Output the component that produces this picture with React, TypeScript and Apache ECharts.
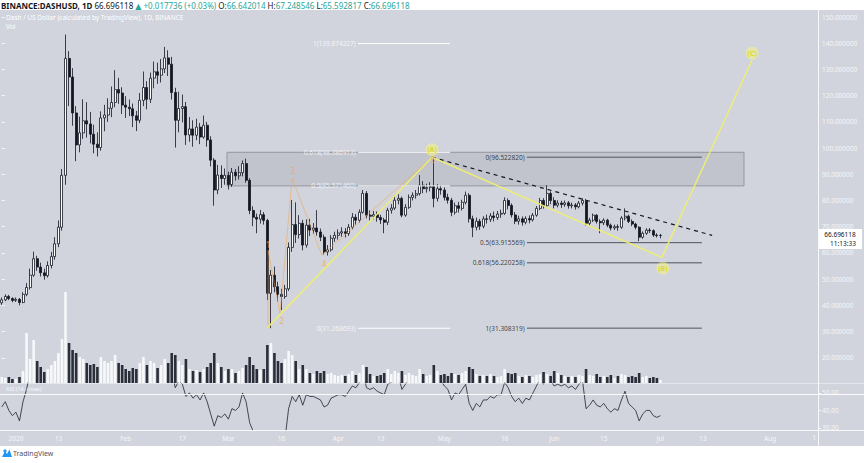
import React, { useEffect, useRef } from "react";
import * as echarts from "echarts";

const FONT = "'Noto Sans', 'DejaVu Sans', sans-serif";
const DAY_COUNT = 231; // 2019-12-28 .. 2020-08-15

const TIME_LABELS: Record<string, string> = {
  "2020-01-01": "2020", "2020-01-13": "13", "2020-02-01": "Feb", "2020-02-17": "17",
  "2020-03-01": "Mar", "2020-03-16": "16", "2020-04-01": "Apr", "2020-04-13": "13",
  "2020-05-01": "May", "2020-05-18": "18", "2020-06-01": "Jun", "2020-06-15": "15",
  "2020-07-01": "Jul", "2020-07-13": "13", "2020-08-01": "Aug",
};

// [open, close, low, high]
const OHLC: number[][] = [
  [41.0, 42.1, 40.2, 43.0], [42.1, 43.4, 41.6, 44.2], [43.4, 42.6, 42.0, 44.0], [42.6, 41.9, 41.2, 43.1], [41.9, 42.3, 41.3, 43.0],
  [42.3, 41.1, 40.0, 42.8], [41.1, 44.2, 40.8, 45.0], [44.2, 46.8, 43.5, 48.5], [46.8, 51.5, 46.0, 54.0], [51.5, 57.8, 50.9, 60.5],
  [57.8, 54.6, 53.2, 58.9], [54.6, 52.4, 51.0, 56.3], [52.4, 51.3, 49.8, 54.0], [51.3, 55.2, 50.6, 56.8], [55.2, 58.6, 54.1, 60.4],
  [58.6, 63.5, 57.4, 66.0], [63.5, 69.8, 62.2, 72.4], [69.8, 89.6, 68.5, 92.0], [89.6, 134.2, 86.0, 143.3], [134.2, 127.1, 116.0, 137.0],
  [127.1, 113.4, 108.5, 130.5], [113.4, 101.2, 95.0, 116.0], [101.2, 105.8, 98.4, 112.0], [105.8, 110.4, 103.5, 118.6], [110.4, 109.2, 104.0, 117.5],
  [109.2, 105.3, 101.8, 113.8], [105.3, 101.5, 98.0, 108.9], [101.5, 100.2, 96.8, 106.0], [100.2, 111.5, 99.0, 114.0], [111.5, 112.6, 106.4, 116.5],
  [112.6, 115.2, 110.0, 119.0], [115.2, 117.4, 111.8, 123.5], [117.4, 122.3, 115.6, 129.7], [122.3, 121.0, 116.9, 126.8], [121.0, 116.4, 113.0, 123.2],
  [116.4, 115.6, 111.5, 119.8], [115.6, 115.0, 112.2, 118.5], [115.0, 112.3, 108.0, 117.0], [112.3, 110.6, 106.5, 114.2], [110.6, 118.2, 109.5, 121.0],
  [118.2, 123.1, 116.0, 129.2], [123.1, 118.6, 114.8, 125.5], [118.6, 126.7, 117.2, 128.8], [126.7, 129.1, 122.8, 133.0], [129.1, 127.8, 124.5, 132.6],
  [127.8, 130.2, 125.0, 134.0], [130.2, 134.4, 128.6, 138.6], [134.4, 132.0, 127.5, 137.3], [132.0, 121.2, 118.5, 134.8], [121.2, 110.6, 100.2, 123.0],
  [110.6, 115.1, 106.0, 121.5], [115.1, 115.8, 109.8, 120.4], [115.8, 105.0, 101.2, 117.6], [105.0, 107.3, 102.4, 111.8], [107.3, 104.9, 100.5, 110.6],
  [104.9, 108.0, 103.0, 111.2], [108.0, 104.2, 101.5, 109.6], [104.2, 108.7, 103.6, 112.4], [108.7, 103.1, 100.5, 110.0], [103.1, 95.4, 93.0, 104.5],
  [95.4, 84.0, 78.0, 96.2], [84.0, 89.7, 82.4, 93.6], [89.7, 88.4, 84.8, 93.4], [88.4, 89.6, 86.0, 92.2], [89.6, 86.1, 84.2, 91.0],
  [86.1, 90.8, 85.2, 92.4], [90.8, 89.4, 87.6, 92.0], [89.4, 90.6, 88.0, 93.1], [90.6, 94.1, 89.2, 95.3], [94.1, 87.7, 86.8, 96.0],
  [87.7, 76.2, 74.8, 88.5], [76.2, 73.6, 70.2, 77.8], [73.6, 72.9, 67.5, 75.0], [72.9, 74.6, 71.2, 76.4], [74.6, 72.4, 70.8, 75.6],
  [72.4, 44.6, 42.0, 73.0], [44.6, 51.5, 31.3, 53.5], [51.5, 47.1, 45.0, 54.8], [47.1, 44.2, 41.5, 49.0], [44.2, 43.4, 38.2, 46.3],
  [43.4, 46.3, 42.5, 47.8], [46.3, 62.1, 45.5, 64.0], [62.1, 70.8, 60.4, 80.2], [70.8, 67.0, 63.8, 79.3], [67.0, 71.3, 65.5, 74.4],
  [71.3, 63.0, 61.0, 72.6], [63.0, 70.6, 62.0, 72.8], [70.6, 68.7, 66.4, 73.0], [68.7, 69.5, 67.2, 71.4], [69.5, 68.0, 66.6, 76.3],
  [68.0, 66.0, 64.5, 69.3], [66.0, 60.4, 59.4, 67.0], [60.4, 61.2, 59.0, 63.0], [61.2, 65.6, 60.5, 66.8], [65.6, 66.7, 64.2, 68.1],
  [66.7, 67.6, 65.1, 69.0], [67.6, 68.1, 66.2, 69.8], [68.1, 67.4, 65.9, 69.5], [67.4, 69.8, 66.5, 71.0], [69.8, 73.6, 69.0, 75.2],
  [73.6, 72.5, 70.8, 74.8], [72.5, 75.5, 71.6, 76.6], [75.5, 82.7, 75.0, 84.0], [82.7, 74.4, 73.2, 83.6], [74.4, 74.0, 72.4, 76.2],
  [74.0, 74.6, 72.8, 76.0], [74.6, 73.5, 71.9, 75.8], [73.5, 72.6, 71.0, 74.5], [72.6, 71.7, 67.5, 73.4], [71.7, 76.3, 70.6, 77.2],
  [76.3, 77.1, 75.0, 78.6], [77.1, 80.1, 76.4, 81.8], [80.1, 80.8, 78.5, 82.4], [80.8, 74.4, 73.6, 81.5], [74.4, 77.4, 73.8, 78.6],
  [77.4, 81.2, 76.8, 82.3], [81.2, 82.0, 80.0, 83.1], [82.0, 82.6, 80.7, 84.0], [82.6, 85.8, 81.9, 89.7], [85.8, 84.5, 82.8, 87.4],
  [84.5, 85.0, 83.0, 86.4], [85.0, 85.3, 83.5, 87.0], [85.3, 80.8, 77.4, 96.5], [80.8, 84.5, 79.6, 86.2], [84.5, 84.0, 82.2, 85.8],
  [84.0, 81.2, 80.0, 85.0], [81.2, 80.1, 78.8, 82.6], [80.1, 75.5, 74.0, 81.0], [75.5, 78.0, 74.6, 79.2], [78.0, 77.0, 75.4, 79.5],
  [77.0, 79.3, 76.2, 80.3], [79.3, 82.0, 78.5, 83.4], [82.0, 73.0, 71.6, 82.8], [73.0, 69.8, 66.0, 74.2], [69.8, 72.1, 68.6, 73.5],
  [72.1, 70.2, 68.8, 73.0], [70.2, 73.0, 69.4, 74.0], [73.0, 72.8, 71.2, 74.6], [72.8, 74.1, 71.8, 75.2], [74.1, 73.5, 72.0, 75.8],
  [73.5, 74.8, 72.6, 76.0], [74.8, 75.1, 73.4, 76.5], [75.1, 80.0, 74.5, 81.2], [80.0, 78.1, 76.6, 80.8], [78.1, 74.5, 73.5, 78.9],
  [74.5, 72.1, 71.0, 75.6], [72.1, 73.0, 70.8, 74.2], [73.0, 71.7, 70.4, 73.9], [71.7, 73.1, 70.9, 74.0], [73.1, 72.6, 71.3, 74.3],
  [72.6, 74.4, 72.0, 75.2], [74.4, 77.0, 73.8, 77.9], [77.0, 80.0, 76.3, 81.0], [80.0, 78.0, 76.9, 80.9], [78.0, 82.7, 77.4, 85.8],
  [82.7, 80.0, 78.6, 83.5], [80.0, 78.2, 77.0, 81.2], [78.2, 79.0, 77.4, 80.1], [79.0, 78.5, 77.2, 79.9], [78.5, 79.1, 77.6, 80.0],
  [79.1, 78.0, 76.9, 79.8], [78.0, 78.3, 77.0, 79.2], [78.3, 77.6, 76.5, 79.0], [77.6, 79.0, 77.0, 79.8], [79.0, 80.0, 78.1, 80.8],
  [80.0, 71.3, 70.5, 80.6], [71.3, 72.5, 70.4, 73.4], [72.5, 74.4, 71.8, 75.0], [74.4, 72.0, 71.2, 74.8], [72.0, 71.5, 67.5, 72.8],
  [71.5, 72.5, 70.6, 73.2], [72.5, 70.6, 69.8, 73.0], [70.6, 69.5, 68.6, 71.2], [69.5, 70.0, 68.8, 70.8], [70.0, 69.8, 68.5, 70.9],
  [69.8, 73.3, 69.2, 74.0], [73.3, 74.0, 72.4, 77.0], [74.0, 72.0, 71.4, 74.6], [72.0, 71.0, 70.2, 72.8], [71.0, 69.8, 69.0, 71.5],
  [69.8, 66.0, 64.5, 70.2], [66.0, 67.5, 65.4, 68.2], [67.5, 68.7, 66.9, 69.4], [68.7, 68.5, 67.6, 69.5], [68.5, 66.8, 66.1, 69.0],
  [66.8, 66.64, 65.9, 67.5], [66.642014, 66.696118, 65.592817, 67.248546],
];

const VOLUME: number[] = [
  6, 5, 6, 4, 4, 6, 12, 50, 24, 43,
  22, 16, 11, 14, 18, 22, 30, 44, 91, 40,
  33, 30, 26, 24, 20, 18, 19, 16, 26, 22,
  20, 22, 28, 20, 18, 14, 12, 15, 14, 20,
  26, 18, 22, 20, 15, 18, 24, 20, 30, 28,
  22, 18, 24, 14, 12, 13, 11, 14, 16, 20,
  30, 20, 16, 12, 14, 14, 10, 12, 15, 18,
  26, 18, 14, 13, 14, 38, 40, 30, 22, 20,
  24, 32, 28, 22, 14, 18, 14, 10, 9, 12,
  10, 12, 9, 10, 8, 7, 8, 7, 9, 12,
  8, 10, 18, 16, 9, 7, 7, 8, 10, 14,
  9, 12, 10, 12, 8, 10, 8, 7, 14, 9,
  7, 8, 18, 12, 8, 9, 7, 10, 9, 8,
  10, 12, 16, 14, 9, 7, 8, 7, 9, 7,
  6, 7, 14, 10, 9, 10, 7, 6, 8, 7,
  6, 8, 9, 11, 9, 7, 12, 10, 8, 7,
  6, 7, 6, 8, 7, 14, 8, 7, 9, 6,
  7, 6, 8, 5, 7, 9, 8, 6, 7, 6,
  10, 6, 7, 5, 6, 5, 3,
];

const RSI: number[] = [
  42, 45, 40, 37, 39, 34, 45, 52, 62, 70,
  64, 60, 58, 63, 66, 72, 78, 88, 94, 88,
  80, 70, 72, 75, 73, 68, 64, 62, 70, 70,
  72, 73, 76, 74, 69, 68, 67, 64, 62, 67,
  70, 66, 71, 72, 71, 72, 74, 72, 62, 53,
  57, 55, 48, 50, 47, 49, 46, 50, 45, 38,
  31, 37, 36, 38, 35, 41, 40, 42, 50, 45,
  33, 28, 27, 28, 27, 18, 25, 23, 22, 21,
  24, 41, 48, 45, 49, 43, 49, 48, 48, 47,
  46, 42, 43, 47, 48, 49, 49, 48, 51, 54,
  53, 56, 62, 53, 52, 53, 51, 50, 49, 55,
  56, 60, 60, 52, 55, 59, 60, 60, 64, 62,
  62, 62, 58, 60, 57, 54, 52, 46, 50, 49,
  52, 55, 44, 40, 44, 42, 46, 46, 48, 47,
  49, 49, 56, 53, 48, 45, 47, 44, 47, 46,
  50, 54, 58, 55, 62, 57, 54, 55, 54, 55,
  53, 54, 52, 55, 57, 41, 43, 46, 43, 42,
  44, 41, 39, 41, 40, 46, 51, 44, 42, 40,
  34, 38, 40, 40, 37, 36, 37,
];

// Drawing anchors in data space: [day index, price]
const ABC_PATH = [[74.9, 31.3], [121.5, 96.52], [186.4, 58.3], [211.9, 133.6]];
const WAVE_PATH = [[75.2, 31.3], [75.2, 61.0], [78.6, 37.0], [82.0, 88.5], [90.4, 59.1], [121.5, 96.52]];
const TRENDLINE = [[121.5, 96.52], [200.6, 66.7]];
const LEFT_FIB = [
  { ratio: "1", price: 139.874227 },
  { ratio: "0.618", price: 98.386913 },
  { ratio: "0.5", price: 85.57146 },
  { ratio: "0", price: 31.268693 },
];
const LEFT_FIB_SPAN = [100.6, 126.6];
const RIGHT_FIB = [
  { ratio: "0", price: 96.52282 },
  { ratio: "0.5", price: 63.915569 },
  { ratio: "0.618", price: 56.220258 },
  { ratio: "1", price: 31.308319 },
];
const RIGHT_FIB_SPAN = [148.3, 197.7];
const ZONE_SPAN = [63.6, 209.6];
const ZONE_PRICES = [98.386913, 85.57146];
const WAVE_LABELS = [
  { text: "1", at: [75.2, 63.3] },
  { text: "2", at: [79.1, 34.3] },
  { text: "3", at: [82.2, 91.6] },
  { text: "4", at: [91.0, 56.0] },
  { text: "5", at: [121.8, 95.6] },
];
const ABC_LABELS = [
  { text: "(A)", at: [121.5, 99.4] },
  { text: "(B)", at: [186.7, 54.2] },
  { text: "(C)", at: [211.9, 136.2] },
];

const LAST = { price: "66.696118", timer: "11:13:33" };

function buildDays(): string[] {
  const out: string[] = [];
  const d = new Date(Date.UTC(2019, 11, 28));
  for (let i = 0; i < DAY_COUNT; i++) {
    out.push(d.toISOString().slice(0, 10));
    d.setUTCDate(d.getUTCDate() + 1);
  }
  return out;
}

export default function App() {
  const ref = useRef<HTMLDivElement>(null);
  useEffect(() => {
    if (!ref.current) return;
    const chart = echarts.init(ref.current, undefined, { renderer: "svg" });
    const days = buildDays();
    const light = "#f4f6fa";
    const yellow = "#eeee70";
    const orange = "#f0a75a";

    const fibLine = (span: number[], price: number, color: string) => ({
      type: "line", xAxisIndex: 3, yAxisIndex: 0, silent: true, symbol: "none",
      data: [[span[0], price], [span[1], price]],
      lineStyle: { color, width: 1 }, z: 4,
    });

    const series: any[] = [
      {
        type: "bar", xAxisIndex: 1, yAxisIndex: 1, barWidth: 2.6, silent: true,
        data: VOLUME.map((v, i) => ({
          value: v,
          itemStyle: { color: OHLC[i][1] >= OHLC[i][0] ? "#f7f8fa" : "#2a2e39" },
        })),
      },
      {
        type: "line", xAxisIndex: 3, yAxisIndex: 0, silent: true, symbol: "none",
        data: [[ZONE_SPAN[0], ZONE_PRICES[0]]], lineStyle: { width: 0 },
        markArea: {
          silent: true,
          itemStyle: { color: "rgba(90,95,110,0.13)", borderColor: "#9598a1", borderWidth: 1 },
          data: [[{ coord: [ZONE_SPAN[0], ZONE_PRICES[0]] }, { coord: [ZONE_SPAN[1], ZONE_PRICES[1]] }]],
        },
        z: 1,
      },
      {
        type: "candlestick", xAxisIndex: 0, yAxisIndex: 0, barWidth: 2.5, silent: true,
        data: OHLC,
        itemStyle: { color: "#ffffff", color0: "#131722", borderColor: "#131722", borderColor0: "#131722", borderWidth: 0.8 },
        z: 3,
      },
      {
        type: "line", xAxisIndex: 2, yAxisIndex: 2, silent: true, symbol: "none",
        data: RSI, lineStyle: { color: "#1e222d", width: 0.8 },
      },
      ...LEFT_FIB.map((f) => fibLine(LEFT_FIB_SPAN, f.price, "#ffffff")),
      ...RIGHT_FIB.map((f) => fibLine(RIGHT_FIB_SPAN, f.price, "#50535e")),
      {
        type: "scatter", xAxisIndex: 3, yAxisIndex: 0, silent: true, symbolSize: 0.5,
        itemStyle: { color: "rgba(0,0,0,0)" },
        data: LEFT_FIB.map((f) => ({ value: [LEFT_FIB_SPAN[0], f.price], name: `${f.ratio}(${f.price.toFixed(6)})` })),
        label: { show: true, position: "left", distance: 2, formatter: (p: any) => p.name, color: "#ffffff", fontSize: 6.5, fontFamily: FONT },
        z: 6,
      },
      {
        type: "scatter", xAxisIndex: 3, yAxisIndex: 0, silent: true, symbolSize: 0.5,
        itemStyle: { color: "rgba(0,0,0,0)" },
        data: RIGHT_FIB.map((f) => ({ value: [RIGHT_FIB_SPAN[0], f.price], name: `${f.ratio}(${f.price.toFixed(6)})` })),
        label: { show: true, position: "left", distance: 2, formatter: (p: any) => p.name, color: "#131722", fontSize: 6.5, fontFamily: FONT },
        z: 6,
      },
      {
        type: "line", xAxisIndex: 3, yAxisIndex: 0, silent: true, symbol: "none",
        data: TRENDLINE, lineStyle: { color: "#131722", width: 1.2, type: [4, 4] }, z: 5,
      },
      {
        type: "line", xAxisIndex: 3, yAxisIndex: 0, silent: true, symbol: "none",
        data: WAVE_PATH, lineStyle: { color: orange, width: 0.8, opacity: 0.7 }, z: 5,
      },
      {
        type: "line", xAxisIndex: 3, yAxisIndex: 0, silent: true, symbol: "none",
        data: ABC_PATH, lineStyle: { color: yellow, width: 1.6, opacity: 0.9 }, z: 5,
      },
      {
        type: "scatter", xAxisIndex: 3, yAxisIndex: 0, silent: true, symbolSize: 0.5,
        itemStyle: { color: "rgba(0,0,0,0)" },
        data: WAVE_LABELS.map((w) => ({ value: w.at, name: w.text })),
        label: { show: true, position: "inside", formatter: (p: any) => p.name, color: orange, fontSize: 8, fontFamily: FONT },
        z: 7,
      },
      {
        type: "scatter", xAxisIndex: 3, yAxisIndex: 0, silent: true, symbol: "circle", symbolSize: 13,
        itemStyle: { color: "rgba(250,250,120,0.6)" },
        data: ABC_LABELS.map((w) => ({ value: w.at, name: w.text })),
        label: { show: true, position: "inside", formatter: (p: any) => p.name, color: "#d8d800", fontSize: 7, fontWeight: "bold", fontFamily: FONT },
        z: 8,
      },
    ];

    const option: any = {
      animation: false,
      backgroundColor: "#d1d4dc",
      textStyle: { fontFamily: FONT },
      grid: [
        { left: 0, top: 17, width: 818, height: 367 },
        { left: 0, top: 290, width: 818, height: 93 },
        { left: 0, top: 383, width: 818, height: 47 },
      ],
      xAxis: [
        { type: "category", gridIndex: 0, data: days, show: false },
        { type: "category", gridIndex: 1, data: days, show: false },
        {
          type: "category", gridIndex: 2, data: days,
          axisLine: { show: false }, axisTick: { show: false }, splitLine: { show: false },
          axisLabel: {
            interval: (_i: number, v: string) => v in TIME_LABELS,
            formatter: (v: string) => TIME_LABELS[v] || "",
            color: light, fontSize: 6.5, margin: 5, fontFamily: FONT,
          },
        },
        { type: "value", gridIndex: 0, min: -0.5, max: DAY_COUNT - 0.5, show: false },
      ],
      yAxis: [
        {
          type: "value", gridIndex: 0, position: "right", min: 10, max: 150, interval: 10,
          axisLine: { show: false }, splitLine: { show: false },
          axisTick: { show: true, length: 3, lineStyle: { color: light } },
          axisLabel: { formatter: (v: number) => v.toFixed(6), color: light, fontSize: 6.5, margin: 4, showMinLabel: false, fontFamily: FONT },
        },
        { type: "value", gridIndex: 1, min: 0, max: 93, show: false },
        {
          type: "value", gridIndex: 2, position: "right", min: 28.8, max: 55.7, splitNumber: 2,
          axisLine: { show: false }, splitLine: { show: false },
          axisTick: { show: true, length: 3, lineStyle: { color: light } },
          axisLabel: { formatter: (v: number) => v.toFixed(2), color: light, fontSize: 6.5, margin: 4, showMinLabel: false, showMaxLabel: false, fontFamily: FONT },
        },
      ],
      series,
      graphic: [
        { type: "line", shape: { x1: 818.5, y1: 10, x2: 818.5, y2: 446 }, style: { stroke: "rgba(255,255,255,0.85)", lineWidth: 1 }, z: 20 },
        { type: "line", shape: { x1: 0, y1: 383.5, x2: 864, y2: 383.5 }, style: { stroke: "rgba(255,255,255,0.45)", lineWidth: 1 }, z: 20 },
        { type: "line", shape: { x1: 0, y1: 394.5, x2: 864, y2: 394.5 }, style: { stroke: "rgba(255,255,255,0.9)", lineWidth: 1 }, z: 20 },
        { type: "line", shape: { x1: 0, y1: 430.5, x2: 864, y2: 430.5 }, style: { stroke: "rgba(255,255,255,0.85)", lineWidth: 1 }, z: 20 },
        { type: "rect", shape: { x: 0, y: 0, width: 864, height: 10 }, style: { fill: "#ffffff" }, z: 50 },
        { type: "rect", shape: { x: 0, y: 446, width: 864, height: 17 }, style: { fill: "#ffffff" }, z: 50 },
        {
          type: "text", x: 1, y: 5, z: 51,
          style: {
            text: "{b|BINANCE:DASHUSD, 1D} {d|66.696118} {g|▲ +0.017736 (+0.03%)} {d|O:}{g|66.642014} {d|H:}{g|67.248546} {d|L:}{g|65.592817} {d|C:}{g|66.696118}",
            verticalAlign: "middle", fontFamily: FONT, fontSize: 8,
            rich: {
              b: { fill: "#131722", fontWeight: "bold", fontSize: 8, fontFamily: FONT },
              d: { fill: "#131722", fontSize: 8, fontFamily: FONT },
              g: { fill: "#26a69a", fontSize: 8, fontFamily: FONT },
            },
          },
        },
        { type: "text", x: 6, y: 17, z: 51, style: { text: "Dash / US Dollar (calculated by TradingView), 1D, BINANCE", fill: "#ffffff", fontSize: 6.5, fontFamily: FONT, verticalAlign: "middle" } },
        { type: "text", x: 6, y: 26, z: 51, style: { text: "Vol", fill: "#ffffff", fontSize: 6.5, fontFamily: FONT, verticalAlign: "middle" } },
        { type: "text", x: 6, y: 389, z: 51, style: { text: "RSI (14, close)", fill: "#f4f6fa", fontSize: 5.5, fontFamily: FONT, verticalAlign: "middle" } },
        { type: "text", x: 816, y: 437, z: 51, style: { text: "1", fill: light, fontSize: 6.5, fontFamily: FONT, align: "right", verticalAlign: "middle" } },
        { type: "rect", shape: { x: 819, y: 229, width: 43, height: 20 }, style: { fill: "#ffffff" }, z: 52 },
        { type: "text", x: 840, y: 234.5, z: 53, style: { text: LAST.price, fill: "#131722", fontSize: 6.5, fontFamily: FONT, align: "center", verticalAlign: "middle" } },
        { type: "text", x: 843, y: 243.5, z: 53, style: { text: LAST.timer, fill: "#131722", fontSize: 6.5, fontFamily: FONT, align: "center", verticalAlign: "middle" } },
        { type: "polygon", shape: { points: [[2, 457], [5, 451], [7, 454], [9.5, 449.5], [12, 457]] }, style: { fill: "#2196f3" }, z: 51 },
        { type: "circle", shape: { cx: 5, cy: 451, r: 1.6 }, style: { fill: "#2196f3" }, z: 51 },
        { type: "text", x: 13, y: 453.5, z: 51, style: { text: "TradingView", fill: "#50535e", fontSize: 7, fontFamily: FONT, verticalAlign: "middle" } },
      ],
    };
    chart.setOption(option);
    return () => chart.dispose();
  }, []);
  return (
    <div style={{ position: "absolute", left: 0, top: 0, width: 864, height: 463 }}>
      <div ref={ref} style={{ width: 864, height: 463 }} />
    </div>
  );
}
